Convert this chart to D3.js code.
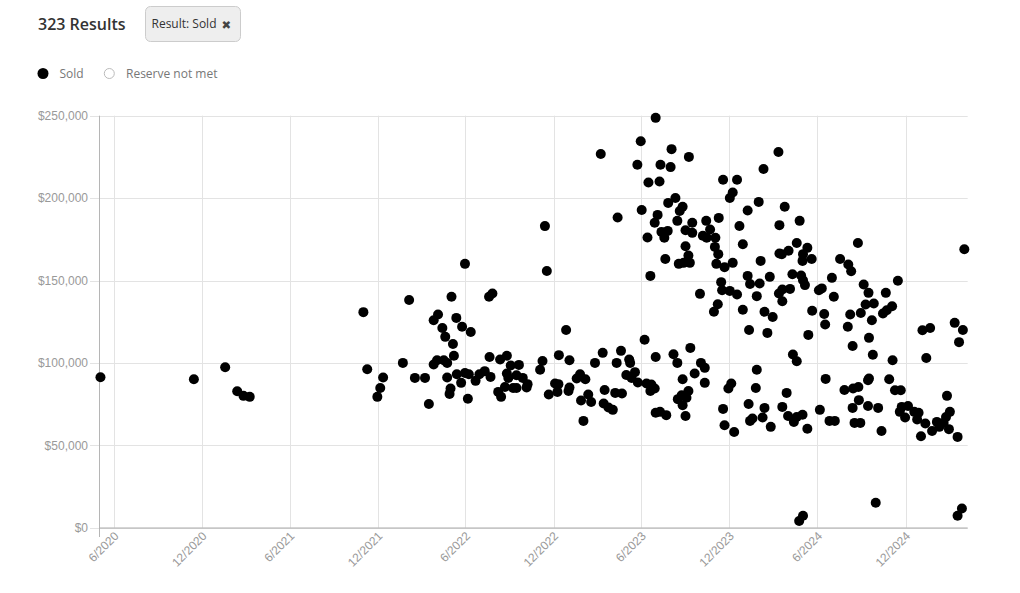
<!DOCTYPE html>
<html><head><meta charset="utf-8">
<script src="https://cdn.jsdelivr.net/npm/d3@7"></script>
<style>
body{margin:0;background:#fff;}
svg{display:block;}
</style></head><body>
<svg id="c" width="1020" height="593"></svg>
<script>
const resultCount = 323;
const filterLabel = "Result: Sold";
const legendItems = ["Sold", "Reserve not met"];
const yTicks = [0, 50000, 100000, 150000, 200000, 250000];
const xTicks = ["2020-06-01","2020-12-01","2021-06-01","2021-12-01","2022-06-01","2022-12-01","2023-06-01","2023-12-01","2024-06-01","2024-12-01"];
const xDomain = ["2020-05-02", "2025-04-09"];

const saleDates = [
"2020-05-04","2020-11-14","2021-01-18","2021-02-12","2021-02-25","2021-03-10","2021-11-01","2021-11-09","2022-02-04","2021-12-12",
"2021-12-06","2021-11-30","2022-01-22","2022-02-16","2022-03-09","2022-03-17","2022-03-27","2022-04-03","2022-04-17","2022-04-24",
"2022-03-27","2022-04-05","2022-05-03","2022-05-13","2022-04-14","2022-04-20","2022-05-06","2022-05-08","2022-05-25","2022-06-12",
"2022-05-31","2022-04-24","2022-05-01","2022-04-29","2022-05-14","2022-05-23","2022-05-31","2022-06-08","2022-06-06","2022-06-22",
"2022-06-30","2022-07-11","2022-07-23","2022-07-21","2022-07-20","2022-07-27","2022-08-12","2022-08-26","2022-09-03","2022-09-20",
"2022-08-26","2022-08-29","2022-09-15","2022-09-28","2022-08-08","2022-08-14","2022-08-22","2022-09-08","2022-09-15","2022-10-08",
"2022-10-06","2022-11-03","2022-11-08","2022-11-17","2022-12-12","2022-12-27","2022-11-21","2022-12-09","2022-12-04","2022-12-11",
"2023-01-03","2023-01-01","2022-11-13","2023-01-03","2023-01-25","2023-01-18","2023-02-05","2023-02-25","2023-03-13","2023-02-11",
"2023-02-17","2023-01-27","2023-02-01","2023-03-17","2023-03-15","2023-03-25","2023-04-03","2023-04-08","2023-04-22","2023-04-11",
"2023-04-20","2023-05-07","2023-05-09","2023-05-01","2023-05-19","2023-05-12","2023-05-25","2023-06-08","2023-06-12","2023-06-22",
"2023-06-29","2023-06-20","2023-07-01","2023-07-01","2023-07-10","2023-07-23","2023-08-07","2023-08-15","2023-09-11","2023-08-26",
"2023-08-16","2023-08-24","2023-09-03","2023-09-07","2023-08-26","2023-09-01","2023-09-20","2023-10-03","2023-10-11","2023-10-11",
"2023-11-07","2023-10-30","2023-12-29","2024-02-12","2024-02-29","2024-01-11","2024-02-18","2023-12-05","2023-11-29","2023-11-18",
"2023-11-21","2023-12-11","2024-01-27","2024-01-25","2024-01-10","2024-02-12","2024-01-13","2024-01-18","2024-02-08","2024-02-25",
"2023-07-01","2023-05-31","2023-03-09","2023-08-03","2023-09-08","2023-05-24","2023-07-11","2023-08-01","2023-06-16","2023-07-09",
"2023-11-18","2023-12-17","2023-12-08","2023-12-02","2024-02-10","2024-03-12","2024-01-31","2024-01-08","2023-04-13","2023-06-02",
"2023-07-27","2023-08-11","2023-08-20","2023-08-26","2023-07-05","2023-06-29","2023-06-14","2023-07-13","2023-07-26","2023-07-19",
"2023-08-15","2023-09-01","2023-09-15","2023-09-15","2023-10-14","2023-11-09","2023-10-22","2023-10-07","2023-10-15","2023-11-02",
"2023-09-01","2023-09-07","2023-09-10","2023-08-18","2023-08-28","2023-07-21","2023-06-20","2023-11-01","2023-11-08","2023-11-04",
"2023-11-21","2023-12-08","2023-12-29","2023-12-22","2024-02-04","2024-01-08","2024-01-13","2024-02-02","2024-02-23","2023-11-14",
"2023-11-16","2023-12-02","2023-12-17","2024-01-27","2023-10-01","2024-03-14","2024-03-14","2024-03-13","2024-03-25","2024-04-25",
"2024-08-24","2024-03-19","2024-04-02","2024-04-19","2024-05-02","2024-05-11","2024-05-01","2024-05-20","2024-07-18","2024-08-04",
"2024-08-10","2024-07-01","2024-09-05","2024-09-15","2024-10-21","2024-07-05","2024-06-15","2024-06-17","2024-05-21","2024-08-08",
"2024-08-30","2024-09-09","2024-09-26","2024-09-22","2024-10-15","2024-10-23","2024-08-03","2024-03-20","2024-03-20","2024-04-05",
"2024-04-10","2024-04-28","2024-05-06","2024-05-02","2024-06-04","2024-06-10","2024-05-13","2024-09-16","2024-08-13","2024-09-24",
"2024-04-11","2024-04-19","2024-06-18","2024-03-29","2024-03-20","2024-04-01","2024-04-19","2024-04-13","2024-05-01","2024-05-11",
"2024-06-06","2024-06-26","2024-07-07","2024-07-27","2024-08-14","2024-08-25","2024-09-14","2024-09-16","2024-08-26","2024-08-13",
"2024-09-14","2024-10-05","2024-08-17","2024-08-29","2024-10-12","2024-10-28","2024-11-04","2024-09-30","2024-04-24","2024-05-02",
"2025-04-02","2024-11-15","2024-11-03","2025-01-05","2025-01-21","2025-03-13","2025-03-30","2025-03-22","2025-01-13","2024-11-09",
"2024-11-21","2025-02-25","2024-11-23","2024-12-06","2024-11-19","2024-11-30","2024-12-19","2024-12-28","2024-12-25","2025-01-11",
"2025-01-02","2025-01-25","2025-02-04","2025-02-09","2025-02-18","2025-02-23","2025-03-03","2025-03-01","2025-03-19","2025-03-28",
"2025-03-19"
];
const salePrices = [
91300,90100,97400,82800,80000,79400,130800,96200,138200,91100,
84800,79400,100000,90900,90900,75100,99000,101600,101600,100000,
125900,129400,140100,127300,121200,115800,111500,104300,121900,118800,
160100,91100,84500,81200,93100,87900,93900,93100,78200,89100,
93100,95000,91500,103600,140100,142100,102100,104300,98400,98800,
93600,90900,92500,90900,82400,79400,85400,84800,84800,87100,
85100,95800,101200,155800,104700,120000,80800,82400,87500,87100,
101600,83000,183000,85100,93100,90500,90100,100000,106100,80800,
76300,77200,64800,83600,75400,72900,71500,81800,81400,100000,
107300,102100,100000,92700,94400,90900,88100,114000,87500,86900,
84500,83000,103600,69700,70300,68300,105300,100000,109100,90100,
78000,80400,78800,83000,74300,67800,93600,100000,97000,87900,
135600,131000,132200,131000,127900,120000,118200,87500,84500,72100,
62200,58100,95800,84800,75100,72700,64800,66300,66900,61200,
248700,234500,226800,229700,225000,220200,220200,218800,209500,210100,
211100,211100,203400,200100,217700,228000,197700,192500,188200,192800,
197100,200100,192200,194700,189800,185000,176100,179500,180100,175900,
186200,180500,185000,178900,186200,188000,181000,177100,175900,175900,
170800,165200,160700,160100,160700,163100,152800,170400,166000,160100,
158100,160700,172000,183100,161900,152800,147900,148200,152200,149000,
144100,143700,141500,140500,141900,183600,166400,142100,194700,186200,
172800,166000,168000,172800,166000,169800,161900,163100,163100,159700,
155600,151600,147600,142500,142500,140100,129700,123300,131600,129400,
130300,135400,136000,125900,130000,132000,121900,144500,137400,144900,
153800,153000,147200,150200,144100,145200,117000,115200,110300,104900,
105100,101000,90300,81800,73300,67800,67200,64200,68500,60000,
71500,64800,64800,83600,84500,85400,89500,90500,77400,72700,
73900,72700,63600,63600,58700,90100,101600,15100,4100,7200,
169000,149800,134400,119800,121200,124300,120000,112600,103000,83400,
83400,80000,73300,73900,70300,66900,70300,69700,65700,63200,
55500,58700,64200,61200,63600,67200,70300,59800,55100,11700,
7200
];

const parse = d3.timeParse("%Y-%m-%d");
const svg = d3.select("#c");
const pLeft = 99.5, pRight = 967.7, pTop = 115.7, pBottom = 527.7;
const x = d3.scaleTime().domain(xDomain.map(parse)).range([pLeft, pRight]);
const y = d3.scaleLinear().domain([0, 250000]).range([pBottom, pTop]);

// header
svg.append("text").attr("x", 38).attr("y", 30)
  .attr("font-family", "'Open Sans', sans-serif").attr("font-weight", 600)
  .attr("font-size", 16).attr("fill", "#333").text(resultCount + " Results");
svg.append("rect").attr("x", 145.5).attr("y", 6.5).attr("width", 95).attr("height", 35)
  .attr("rx", 5).attr("fill", "#eee").attr("stroke", "#ccc");
svg.append("text").attr("x", 151.5).attr("y", 28)
  .attr("font-family", "'Open Sans', sans-serif").attr("font-size", 12)
  .attr("fill", "#333").text(filterLabel);
svg.append("text").attr("x", 221.5).attr("y", 28.5)
  .attr("font-family", "'DejaVu Sans', sans-serif").attr("font-size", 11.5)
  .attr("fill", "#444").text("\u2716");

// legend
const lg = svg.append("g");
lg.append("circle").attr("cx", 43).attr("cy", 73.5).attr("r", 5.5).attr("fill", "#000");
lg.append("text").attr("x", 59.5).attr("y", 77.5).attr("font-family", "'Open Sans', sans-serif")
  .attr("font-size", 12).attr("fill", "#777").text(legendItems[0]);
lg.append("circle").attr("cx", 109.3).attr("cy", 73.5).attr("r", 5).attr("fill", "#fff")
  .attr("stroke", "#bbb").attr("stroke-width", 1);
lg.append("text").attr("x", 126).attr("y", 77.5).attr("font-family", "'Open Sans', sans-serif")
  .attr("font-size", 12).attr("fill", "#777").text(legendItems[1]);

// grid
const grid = svg.append("g");
grid.selectAll("line.h").data(yTicks).join("line").attr("class", "h")
  .attr("x1", 90).attr("x2", pRight).attr("y1", d => Math.round(y(d)) + 0.5).attr("y2", d => Math.round(y(d)) + 0.5)
  .attr("stroke", "#e3e3e3");
grid.selectAll("line.v").data(xTicks.map(parse)).join("line").attr("class", "v")
  .attr("y1", pTop).attr("y2", pBottom).attr("x1", d => Math.round(x(d)) + 0.5).attr("x2", d => Math.round(x(d)) + 0.5)
  .attr("stroke", "#e3e3e3");

// y axis
const yAxis = svg.append("g").attr("transform", `translate(${pLeft},0)`)
  .call(d3.axisLeft(y).tickValues(yTicks).tickSize(0).tickPadding(11.5).tickFormat(d3.format("$,")));
yAxis.select(".domain").remove();
yAxis.selectAll("text").attr("font-family", "'Liberation Sans', Arial, sans-serif")
  .attr("font-size", 12).attr("fill", "#999");

// axis lines
svg.append("line").attr("x1", pLeft).attr("x2", pLeft).attr("y1", pTop).attr("y2", 537)
  .attr("stroke", "#b5b5b5");
svg.append("line").attr("x1", pLeft).attr("x2", pRight).attr("y1", pBottom + 0.3).attr("y2", pBottom + 0.3)
  .attr("stroke", "#aaa");

// x axis
const fmt = d => (d.getMonth() + 1) + "/" + d.getFullYear();
const xAxis = svg.append("g").attr("transform", `translate(0,${pBottom})`)
  .call(d3.axisBottom(x).tickValues(xTicks.map(parse)).tickSize(0).tickFormat(fmt));
xAxis.select(".domain").remove();
xAxis.selectAll("text")
  .attr("font-family", "'Liberation Sans', Arial, sans-serif").attr("font-size", 12).attr("fill", "#999")
  .attr("text-anchor", "end").attr("dy", 0)
  .attr("transform", "translate(5,9) rotate(-45)")
  .attr("y", 0).attr("x", 0);

// points
svg.append("g").selectAll("circle").data(saleDates.map((d, i) => ({ date: parse(d), price: salePrices[i] })))
  .join("circle")
  .attr("cx", d => x(d.date)).attr("cy", d => y(d.price)).attr("r", 5).attr("fill", "#000");
</script>
</body></html>
